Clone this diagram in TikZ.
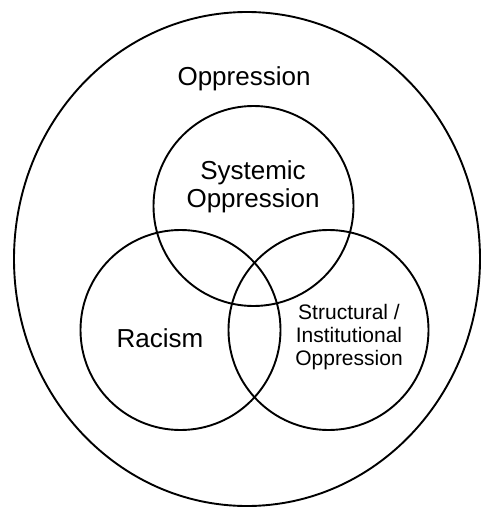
\documentclass[tikz,border=0pt]{standalone}
\usepackage{fontspec}
\setmainfont{Liberation Sans}
\usetikzlibrary{shapes.geometric}
\begin{document}
\begin{tikzpicture}[x=1pt,y=-1pt,
  ring/.style={draw=black,line width=1.9pt,circle,inner sep=0pt,minimum size=200pt},
  big/.style={font=\fontsize{26}{28.5}\selectfont,align=center,inner sep=0pt},
  small/.style={font=\fontsize{21}{23}\selectfont,align=center,inner sep=0pt}]
\useasboundingbox (0,0) rectangle (483,508);
\node[draw=black,line width=1.9pt,ellipse,inner sep=0pt,minimum width=466pt,minimum height=494pt] (outer) at (247,259) {};
\node[ring] (sys) at (253.5,206) {};
\node[ring] (rac) at (180.5,330) {};
\node[ring] (str) at (328.5,330) {};
\node[big] (topl) at (244,79) {Oppression};
\node[big] (sysl) at (253,187) {Systemic\\Oppression};
\node[big] (racl) at (160,338) {Racism};
\node[small] (strl) at (349,337) {Structural /\\Institutional\\Oppression};
\end{tikzpicture}
\end{document}
